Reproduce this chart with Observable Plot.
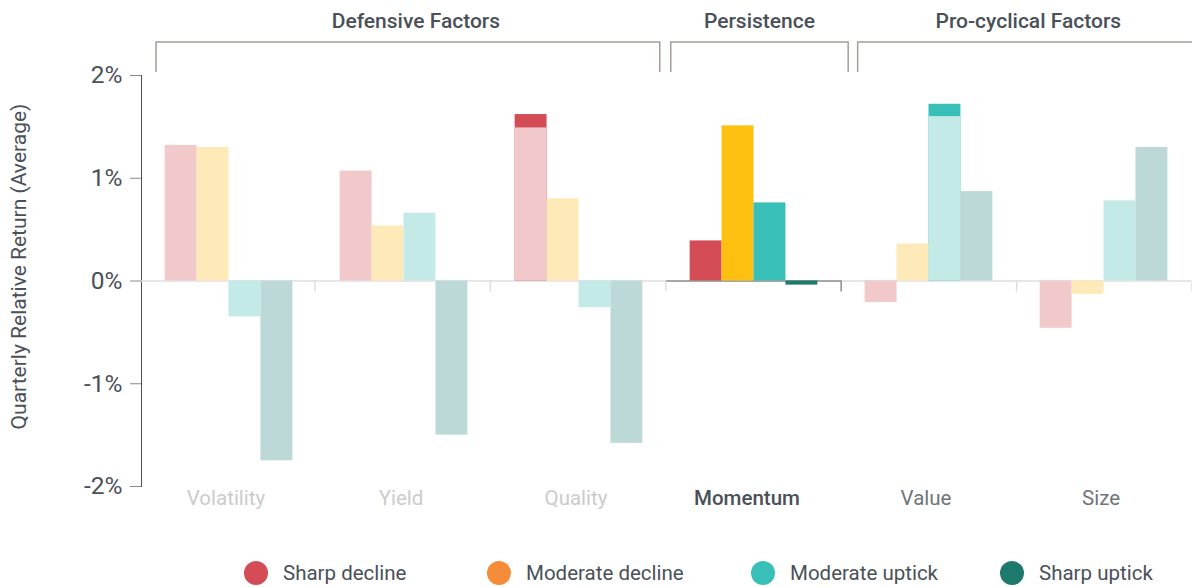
<!DOCTYPE html>
<html>
<head>
<meta charset="utf-8">
<script src="https://cdn.jsdelivr.net/npm/d3@7"></script>
<script src="https://cdn.jsdelivr.net/npm/@observablehq/plot@0.6"></script>
<style>
  html, body { margin: 0; padding: 0; background: #fff; }
  body { width: 1192px; height: 587px; overflow: hidden; font-family: Roboto, "Noto Sans", sans-serif; }
  #chart svg { display: block; }
  #chart svg [aria-label^="y-axis"] path,
  #chart svg [aria-label^="y-axis"] line,
  #chart svg .tick line,
  #chart svg .domain { stroke: #8a8a8a; }
  #legend { display: flex; align-items: center; margin-top: 31px; height: 24px; padding-left: 244px;
            font-size: 20.5px; color: #4a5058; }
  .item { display: flex; align-items: center; }
  .dot { width: 24px; height: 24px; border-radius: 50%; margin-right: 15px; flex: none; }
</style>
</head>
<body>
<div id="chart"></div>
<div id="legend"></div>
<script>
// ---------- data ----------
const factors = ["Volatility", "Yield", "Quality", "Momentum", "Value", "Size"];
const factorGroup = ["Defensive Factors", "Defensive Factors", "Defensive Factors", "Persistence", "Pro-cyclical Factors", "Pro-cyclical Factors"];
const groupNames = ["Defensive Factors", "Persistence", "Pro-cyclical Factors"];
const states = ["Sharp decline", "Moderate decline", "Moderate uptick", "Sharp uptick"];

const sharpDecline    = [1.32, 1.07, 1.49, 0.39, -0.21, -0.46];
const moderateDecline = [1.30, 0.535, 0.80, 1.51, 0.36, -0.13];
const moderateUptick  = [-0.35, 0.66, -0.26, 0.76, 1.60, 0.78];
const sharpUptick     = [-1.75, -1.50, -1.58, -0.04, 0.87, 1.30];

const highlighted = "Momentum";

// bars caught mid-transition (full-colour part showing above the faded bar)
const ghostFactor = ["Quality", "Value"];
const ghostState  = ["Sharp decline", "Moderate uptick"];
const ghostValue  = [1.62, 1.72];

const yTicks = [-2, -1, 0, 1, 2];

const fullColors   = ["#d44c55", "#fdc010", "#38bfb8", "#1f7a6e"];
const fadedColors  = ["#f1c9cb", "#fee9b8", "#c4eae8", "#bcd8d7"];
const legendColors = ["#d44c55", "#f58c3a", "#38bfb8", "#1f7a6e"];
const labelColors  = ["#cbcbcb", "#cbcbcb", "#cbcbcb", "#4a5058", "#6f747a", "#6f747a"];

// ---------- build table ----------
const series = [sharpDecline, moderateDecline, moderateUptick, sharpUptick];
const rows = [];
factors.forEach((f, i) => {
  states.forEach((s, j) => {
    rows.push({factor: f, state: s, value: series[j][i],
               color: f === highlighted ? fullColors[j] : fadedColors[j]});
  });
});
const ghosts = ghostFactor.map((f, i) => ({
  factor: f, state: ghostState[i], value: ghostValue[i],
  color: fullColors[states.indexOf(ghostState[i])]
}));
const factorRows = factors.map((f, i) => ({factor: f, color: labelColors[i],
  weight: f === highlighted ? 500 : 400,
  zero: f === highlighted ? "#8a8a8a" : "#dedede"}));

const W = 1192, H = 530, ML = 139.5, MR = 0, MT = 75, MB = 44;

const plot = Plot.plot({
  width: W, height: H,
  marginLeft: ML, marginRight: MR, marginTop: MT, marginBottom: MB,
  style: {fontFamily: "Roboto, 'Noto Sans', sans-serif", fontSize: "24.5px", color: "#4a5058", background: "#fff"},
  fx: {domain: factors, padding: 0, axis: null, label: null},
  x: {domain: states, paddingInner: 0, paddingOuter: 0.74, round: false, axis: null},
  y: {domain: [-2, 2], ticks: yTicks, tickFormat: d => d + "%", tickSize: 11, tickPadding: 8, line: true, label: null},
  marks: [
    Plot.ruleY(factorRows, {fx: "factor", y: () => 0, stroke: "zero", strokeWidth: 1.5}),
    Plot.barY(ghosts, {fx: "factor", x: "state", y: "value", fill: "color"}),
    Plot.barY(rows, {fx: "factor", x: "state", y: "value", fill: "color"}),
    Plot.text(factorRows.filter(d => d.weight === 400), {fx: "factor", text: "factor", fill: "color", frameAnchor: "bottom",
      dy: 12, dx: -3, fontSize: 20.5, lineAnchor: "middle"}),
    Plot.text(factorRows.filter(d => d.weight === 500), {fx: "factor", text: "factor", fill: "color", frameAnchor: "bottom",
      dy: 12, dx: -7, fontSize: 20.5, fontWeight: 500, lineAnchor: "middle"})
  ]
});

// ---------- overlay annotations using the plot's own scales ----------
const fxs = plot.scale("fx");
const band = d3.scaleBand(fxs.domain, fxs.range)
  .paddingInner(fxs.paddingInner ?? 0).paddingOuter(fxs.paddingOuter ?? 0).align(fxs.align ?? 0.5);
const ys = plot.scale("y");
const yScale = d3.scaleLinear(ys.domain, ys.range);
const svg = d3.select(plot);
const g = svg.append("g");

// boundary ticks below zero line
const bounds = factors.map(f => band(f) + band.bandwidth());
bounds.forEach((bx, i) => {
  const dark = factors[i] === highlighted;
  g.append("line")
    .attr("x1", bx).attr("x2", bx)
    .attr("y1", yScale(0)).attr("y2", yScale(0) + 11)
    .attr("stroke", dark ? "#8a8a8a" : "#dedede").attr("stroke-width", 1.5);
});

// group brackets + titles
groupNames.forEach((name, gi) => {
  const members = factors.filter((f, i) => factorGroup[i] === name);
  const start = band(members[0]);
  const end = band(members[members.length - 1]) + band.bandwidth();
  const x1 = start + (gi === 1 ? 5 : 16.5);
  const x2 = gi === groupNames.length - 1 ? W + 7 : end + (gi === 1 ? 7 : -6);
  const yTop = 42, yBot = 72;
  g.append("path")
    .attr("d", `M${x1},${yBot}V${yTop}H${x2}V${yBot}`)
    .attr("fill", "none").attr("stroke", "#a39e99").attr("stroke-width", 1.5);
  g.append("text")
    .attr("x", (x1 + x2) / 2 + (gi === 0 ? 8 : 0)).attr("y", 22)
    .attr("text-anchor", "middle").attr("dominant-baseline", "middle")
    .attr("font-size", 21).attr("font-weight", 500).attr("fill", "#4a5058")
    .text(name);
});

// y-axis label
const yMid = (yScale(-2) + yScale(2)) / 2 - 14;
g.append("text")
  .attr("transform", `translate(20,${yMid}) rotate(-90)`)
  .attr("text-anchor", "middle").attr("dominant-baseline", "middle")
  .attr("font-size", 21).attr("fill", "#4a5058")
  .text("Quarterly Relative Return (Average)");

document.getElementById("chart").appendChild(plot);

// ---------- legend ----------
const itemWidths = [243, 264, 249, 160];
const legend = d3.select("#legend");
states.forEach((s, i) => {
  const it = legend.append("div").attr("class", "item").style("width", itemWidths[i] + "px");
  it.append("div").attr("class", "dot").style("background", legendColors[i]);
  it.append("span").text(s);
});
</script>
</body>
</html>
